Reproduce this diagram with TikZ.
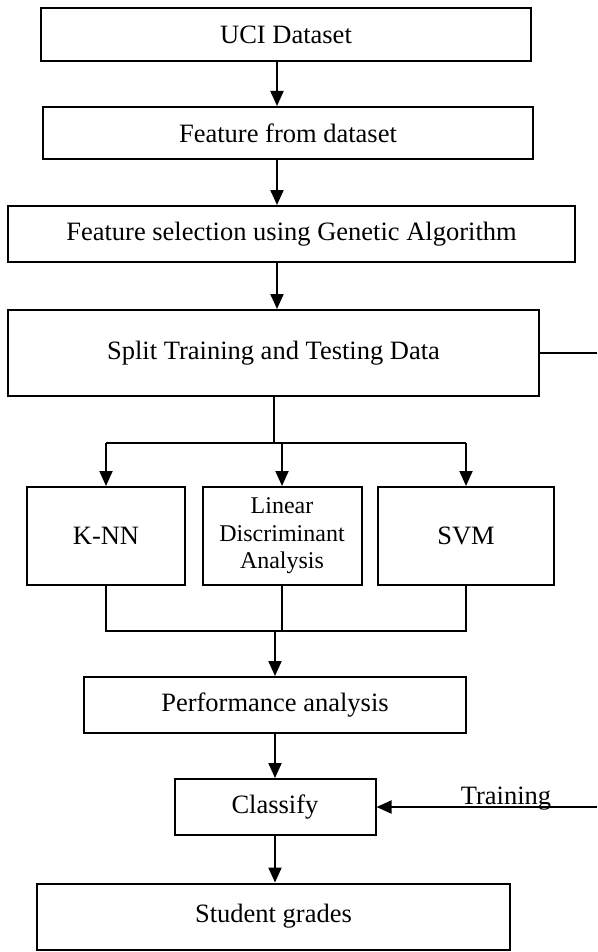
\documentclass[tikz,border=0pt]{standalone}
\usepackage{fontspec}
\setmainfont{Liberation Serif}
\usetikzlibrary{arrows.meta}
\begin{document}
\begin{tikzpicture}[x=1pt,y=-1pt,
  box/.style={draw, line width=2pt, inner sep=0pt, align=center, font=\fontsize{26.5}{30}\selectfont},
  line/.style={line width=2pt},
  arr/.style={line width=2pt, -{Triangle[length=15pt,width=13pt]}},
  lbl/.style={inner sep=0pt, font=\fontsize{26.5}{30}\selectfont}]
\useasboundingbox (0,0) rectangle (597,952);
\node[box, minimum width=490, minimum height=53] (uci) at (286,34.5) {UCI Dataset};
\node[box, minimum width=490, minimum height=52] (ffd) at (288,133) {Feature from dataset};
\node[box, minimum width=567, minimum height=56] (fs) at (291.5,234) {Feature selection using Genetic Algorithm};
\node[box, minimum width=531, minimum height=86] (split) at (273.5,353) {Split Training and Testing Data};
\node[box, minimum width=158, minimum height=98] (knn) at (106,536) {K-NN};
\node[box, minimum width=159, minimum height=98, font=\fontsize{24}{27.5}\selectfont] (lda) at (282,536) {Linear\\Discriminant\\Analysis};
\node[box, minimum width=176, minimum height=98] (svm) at (466,536) {SVM};
\node[box, minimum width=382, minimum height=56] (perf) at (275,705) {Performance analysis};
\node[box, minimum width=201, minimum height=56] (cls) at (275,807) {Classify};
\node[box, minimum width=473, minimum height=66] (stu) at (273.5,916.5) {Student grades};
\coordinate (colA) at (277,0);
\coordinate (br) at (274,443);
\coordinate (jn) at (275,631);
\coordinate (rt1) at (597,353);
\coordinate (rt2) at (597,807);
\draw[arr] (uci.south -| colA) -- (ffd.north -| colA);
\draw[arr] (ffd.south -| colA) -- (fs.north -| colA);
\draw[arr] (fs.south -| colA) -- (split.north -| colA);
\draw[line] (split.south -| br) -- (br);
\draw[line] (br -| knn.north) -- (br -| svm.north);
\draw[arr] (br -| knn.north) -- (knn.north);
\draw[arr] (br -| lda.north) -- (lda.north);
\draw[arr] (br -| svm.north) -- (svm.north);
\draw[line] (knn.south) -- (knn.south |- jn) -- (svm.south |- jn) -- (svm.south);
\draw[line] (lda.south) -- (lda.south |- jn);
\draw[arr] (jn) -- (perf.north -| jn);
\draw[arr] (perf.south) -- (perf.south |- cls.north);
\draw[arr] (cls.south) -- (cls.south |- stu.north);
\draw[line] (split.east) -- (rt1);
\node[lbl, anchor=base] (trn) at (506,804) {Training};
\draw[arr] (rt2) -- (cls.east);
\end{tikzpicture}
\end{document}
